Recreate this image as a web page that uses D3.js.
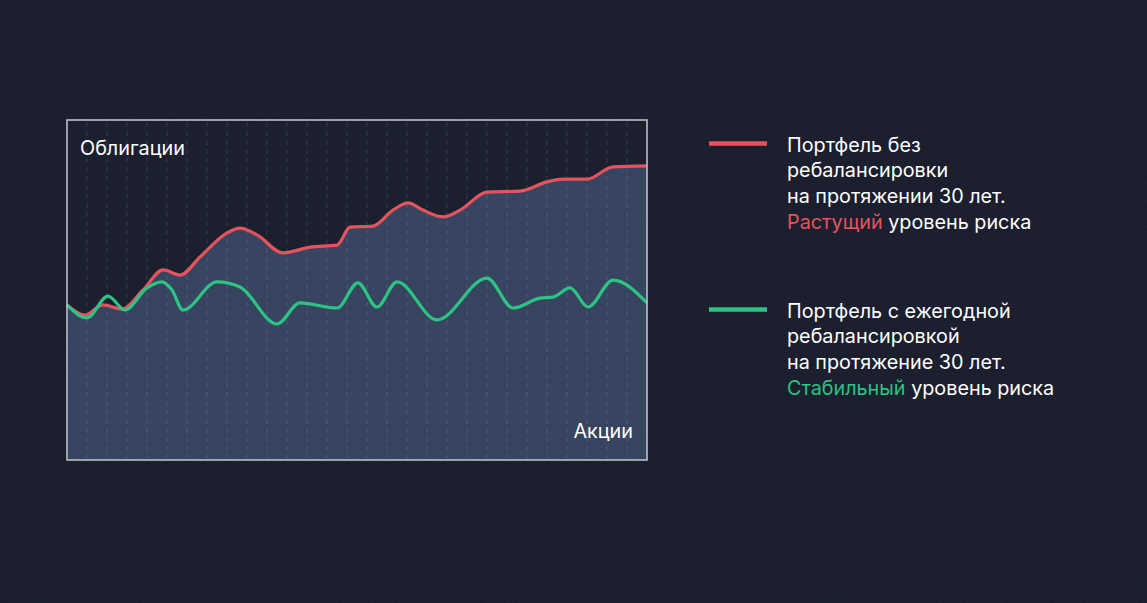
<!DOCTYPE html>
<html><head><meta charset="utf-8">
<script src="https://cdn.jsdelivr.net/npm/d3@7"></script>
<style>
html,body{margin:0;padding:0;background:#191d2b;}
svg{display:block;}
</style></head>
<body>
<svg id="c" width="1147" height="603"></svg>
<script>
// Years (0–30) and series values (0–100 scale)
const redYears = [0,0.93,1.86,2.85,3.93,4.97,5.85,6.88,8.28,8.95,9.83,11.17,12.57,13.97,14.64,15.83,16.86,17.64,18.41,19.45,20.33,21.72,23.43,24.83,25.66,26.9,28.24,30];
const redValues = [45.6,42.6,45.6,44.4,50.0,55.9,54.4,59.7,66.8,68.2,66.2,60.9,62.6,63.2,68.5,68.8,73.5,75.6,73.5,71.5,73.5,78.8,79.1,81.8,82.6,82.6,86.2,86.5];
const greenYears = [0,1.03,2.12,3.0,4.14,4.91,5.43,6.0,7.76,8.95,10.86,12.05,13.97,15.05,16.03,17.07,19.14,21.72,23.07,24.47,25.14,26.02,26.95,28.24,30];
const greenValues = [45.6,41.8,48.2,44.1,50.6,52.4,50.0,44.1,52.4,50.9,40.0,46.2,44.7,52.1,45.0,52.4,41.2,53.5,44.7,47.6,47.9,50.6,45.0,52.9,46.2];
const axisTopLabel = "Облигации";
const axisBottomLabel = "Акции";
const legendRed = ["Портфель без","ребалансировки","на протяжении 30 лет."];
const legendRedLast = ["Растущий"," уровень риска"];
const legendGreen = ["Портфель с ежегодной","ребалансировкой","на протяжение 30 лет."];
const legendGreenLast = ["Стабильный"," уровень риска"];

const RED = "#e6535f", GREEN = "#2cc385";
const svg = d3.select("#c");
const FONT = "Inter, 'Noto Sans', sans-serif";
const FS = 19.8;

// subtle noise background
const defs = svg.append("defs");
const f = defs.append("filter").attr("id","noise").attr("x",0).attr("y",0).attr("width","100%").attr("height","100%");
f.append("feTurbulence").attr("type","fractalNoise").attr("baseFrequency",0.9).attr("numOctaves",2).attr("seed",3);
f.append("feColorMatrix").attr("type","matrix").attr("values","0 0 0 0 0.6  0 0 0 0 0.65  0 0 0 0 0.8  0 0 0 0.05 0");
svg.append("rect").attr("width",1147).attr("height",603).attr("fill","#171b29");

const L = 67, R = 647, T = 120, B = 460;
const x = d3.scaleLinear().domain([0,30]).range([L,R]);
const y = d3.scaleLinear().domain([0,100]).range([B,T]);

const redData = redYears.map((t,i)=>({t, v:redValues[i]}));
const greenData = greenYears.map((t,i)=>({t, v:greenValues[i]}));

const curve = d3.curveMonotoneX;
// area under red
svg.append("path").datum(redData)
  .attr("d", d3.area().x(d=>x(d.t)).y0(y(0)).y1(d=>y(d.v)).curve(curve))
  .attr("fill","#33415d");

// dashed grid
const g = d3.scaleLinear().domain([0,29]).range([L,R]);
svg.append("g").selectAll("line").data(d3.range(1,29)).join("line")
  .attr("x1",d=>g(d)).attr("x2",d=>g(d)).attr("y1",T+2).attr("y2",B-2)
  .attr("stroke","#aab4cc").attr("stroke-opacity",0.12).attr("stroke-width",1.5)
  .attr("stroke-dasharray","5 4");

svg.append("rect").attr("width",1147).attr("height",603).attr("filter","url(#noise)");

const line = d3.line().x(d=>x(d.t)).y(d=>y(d.v)).curve(curve);
svg.append("path").datum(redData).attr("d",line).attr("fill","none")
  .attr("stroke",RED).attr("stroke-width",3.2).attr("stroke-linejoin","round");
svg.append("path").datum(greenData).attr("d",line).attr("fill","none")
  .attr("stroke",GREEN).attr("stroke-width",3.2).attr("stroke-linejoin","round");

// frame
svg.append("rect").attr("x",L).attr("y",T).attr("width",R-L).attr("height",B-T)
  .attr("fill","none").attr("stroke","#b9bec9").attr("stroke-width",1.6);

svg.append("text").attr("x",80).attr("y",155).text(axisTopLabel)
  .attr("fill","#fff").attr("font-family",FONT).attr("font-size",FS);
svg.append("text").attr("x",633).attr("y",438).attr("text-anchor","end").text(axisBottomLabel)
  .attr("fill","#fff").attr("font-family",FONT).attr("font-size",FS);

function legend(y0, color, lines, last){
  svg.append("line").attr("x1",709).attr("x2",767).attr("y1",y0).attr("y2",y0)
    .attr("stroke",color).attr("stroke-width",4.5);
  const t = svg.append("text").attr("font-family",FONT).attr("font-size",FS).attr("fill","#fff");
  lines.forEach((s,i)=>{
    t.append("tspan").attr("x",787).attr("y",y0+8+i*25.7).text(s);
  });
  const ly = y0+8+lines.length*25.7;
  t.append("tspan").attr("x",787).attr("y",ly).attr("fill",color).text(last[0]);
  t.append("tspan").attr("fill","#fff").text(last[1]);
}
legend(143.5, RED, legendRed, legendRedLast);
legend(309.5, GREEN, legendGreen, legendGreenLast);
</script>
</body></html>
